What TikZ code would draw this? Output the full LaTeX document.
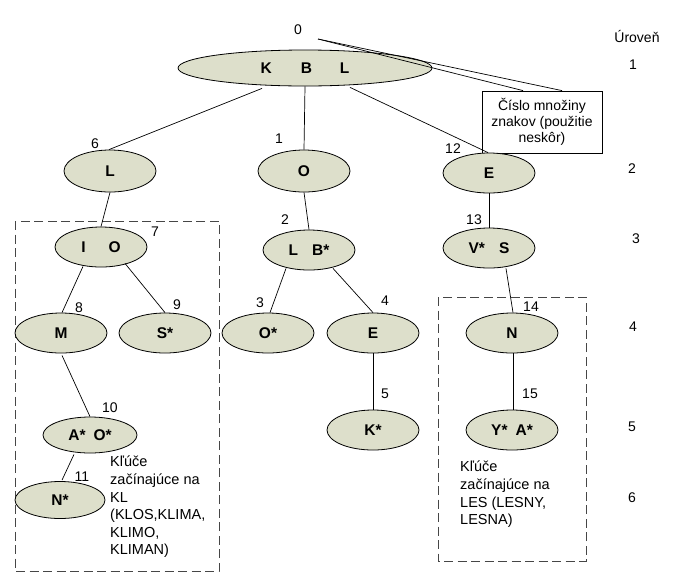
\documentclass[tikz,border=0pt]{standalone}
\usepackage{fontspec}
\setmainfont{Liberation Sans}[BoldFont={Liberation Sans Bold}]
\usetikzlibrary{shapes.geometric}
\definecolor{nodefill}{RGB}{221,223,203}
\definecolor{boxgray}{RGB}{70,70,70}
\tikzset{
  tnode/.style={ellipse,draw=black,line width=0.8pt,fill=nodefill,inner sep=0pt,
    minimum width=92pt,minimum height=40pt,font=\bfseries\fontsize{15.5}{18}\selectfont},
  edge/.style={draw=black,line width=0.7pt},
  num/.style={inner sep=0pt,font=\fontsize{14}{16}\selectfont},
  note/.style={inner sep=0pt,align=left,anchor=north west,font=\fontsize{14.5}{17.6}\selectfont},
  group/.style={draw=boxgray,line width=0.9pt,dash pattern=on 9pt off 4.5pt},
}
\begin{document}
\begin{tikzpicture}[x=1pt,y=-1pt]
\useasboundingbox (0,0) rectangle (679,587);
% dashed groups
\draw[group] (15,221) rectangle (219,571);
\draw[group] (438,297) rectangle (586,561);
% callout box
\node[draw=black,line width=0.8pt,fill=white,minimum width=120pt,minimum height=62pt,inner sep=0pt,
  align=center,font=\fontsize{14}{16.3}\selectfont] (call) at (542,122) {Číslo množiny\\znakov (použitie\\neskôr)};
% nodes
\node[tnode,minimum width=254pt,minimum height=36pt] (root) at (305,68) {K\hspace{29pt}B\hspace{28pt}L};
\node[tnode,minimum height=42pt] (nL) at (110,171) {L};
\node[tnode,minimum height=42pt] (nO) at (304,171) {O};
\node[tnode] (nE) at (489,173) {E};
\node[tnode] (nIO) at (101,247) {I\hspace{23pt}O};
\node[tnode] (nLB) at (309,250) {L\hspace{14pt}B*};
\node[tnode] (nVS) at (489,248) {V*\hspace{14pt}S};
\node[tnode] (nM) at (61,333) {M};
\node[tnode] (nS) at (165,333) {S*};
\node[tnode] (nOs) at (268,333) {O*};
\node[tnode] (nE4) at (373,333) {E};
\node[tnode] (nN) at (512,333) {N};
\node[tnode,minimum width=94pt,minimum height=36pt] (nAO) at (90,435) {A*\hspace{8pt}O*};
\node[tnode] (nK) at (373,430) {K*};
\node[tnode] (nYA) at (512,430) {Y*\hspace{8pt}A*};
\node[tnode,minimum width=90pt,minimum height=37pt] (nNs) at (60,500) {N*};
% callout pointer
\coordinate (apex) at (318,39);
\draw[edge] (apex) -- ([xshift=-19pt]call.north);
\draw[edge] (apex) -- ([xshift=20pt]call.north);
% edges
\draw[edge] ([xshift=-43pt,yshift=-2pt]root.south) -- ([xshift=-1pt]nL.north);
\draw[edge] (root.south) -- (nO.north);
\draw[edge] ([xshift=45pt,yshift=-1pt]root.south) -- ([xshift=-1pt]nE.north);
\draw[edge] (nL.south) -- (nIO.north);
\draw[edge] ([xshift=-18pt,yshift=1pt]nIO.south) -- ([xshift=1pt]nM.north);
\draw[edge] ([xshift=24pt,yshift=4pt]nIO.south) -- (nS.north);
\draw[edge] ([xshift=1pt,yshift=-2pt]nM.south) -- (nAO.north);
\draw[edge] ([xshift=-16pt,yshift=-1pt]nAO.south) -- ([xshift=2pt,yshift=1pt]nNs.north);
\draw[edge] (nO.south) -- (nLB.north);
\draw[edge] ([xshift=-23pt,yshift=2pt]nLB.south) -- ([xshift=2pt]nOs.north);
\draw[edge] ([xshift=24pt,yshift=2pt]nLB.south) -- (nE4.north);
\draw[edge] (nE4.south) -- (nK.north);
\draw[edge] (nE.south) -- (nVS.north);
\draw[edge] ([xshift=17pt]nVS.south) -- ([xshift=1pt]nN.north);
\draw[edge] ([xshift=1pt]nN.south) -- ([xshift=1pt]nYA.north);
% number labels
\node[num] (l0) at (298,30) {0};
\node[num] (l1) at (279,139) {1};
\node[num] (l12) at (453,149) {12};
\node[num] (l6) at (95,144) {6};
\node[num] (l7) at (155,232) {7};
\node[num] (l8) at (79,308) {8};
\node[num] (l9) at (177,305) {9};
\node[num] (l10) at (110,408) {10};
\node[num] (l11) at (82,477) {11};
\node[num] (l2) at (285,220) {2};
\node[num] (l3) at (260,303) {3};
\node[num] (l4) at (385,301) {4};
\node[num] (l5) at (385,394) {5};
\node[num] (l13) at (474,220) {13};
\node[num] (l14) at (531,307) {14};
\node[num] (l15) at (530,394) {15};
% level column
\node[num] (lev) at (637,36) {Úroveň};
\node[num] (v1) at (633,65) {1};
\node[num] (v2) at (632,169) {2};
\node[num] (v3) at (636,239) {3};
\node[num] (v4) at (633,327) {4};
\node[num] (v5) at (632,427) {5};
\node[num] (v6) at (632,498) {6};
% notes
\node[note] (noteL) at (110,456) {Kľúče\\začínajúce na\\KL\\(KLOS,KLIMA,\\KLIMO,\\KLIMAN)};
\node[note] (noteR) at (460,461) {Kľúče\\začínajúce na\\LES (LESNY,\\LESNA)};
\end{tikzpicture}
\end{document}
